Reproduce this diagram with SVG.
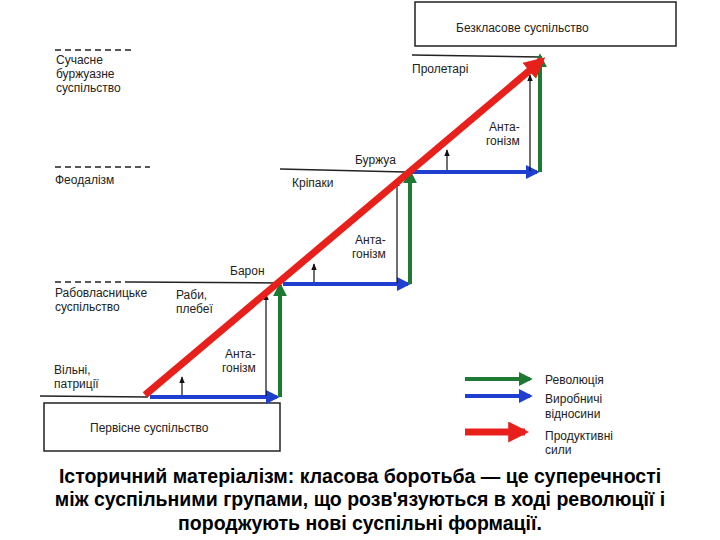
<svg xmlns="http://www.w3.org/2000/svg" width="720" height="540" viewBox="0 0 720 540">
<style>
text{font-family:"Liberation Sans",Arial,sans-serif;font-size:12px;fill:#222}
.cap{font-size:19.5px;font-weight:bold;fill:#000;text-anchor:middle}
.lv{stroke:#222;stroke-width:1.5;fill:none}
.ds{stroke:#222;stroke-width:1.5;stroke-dasharray:6,4;fill:none}
.bl{stroke:#1f3fd0;stroke-width:4;fill:none}
.gr{stroke:#1e7a33;stroke-width:4;fill:none}
.rd{stroke:#e8201c;stroke-width:7;fill:none}
.th{stroke:#111;stroke-width:1.2;fill:none}
.box{fill:#fff;stroke:#222;stroke-width:1.5}
</style>
<defs>
<marker id="mb" viewBox="0 0 10 10" refX="8" refY="5" markerWidth="3.5" markerHeight="3.5" orient="auto"><path d="M0,0L10,5L0,10z" fill="#1f3fd0"/></marker>
<marker id="mg" viewBox="0 0 10 10" refX="8" refY="5" markerWidth="3.5" markerHeight="3.5" orient="auto"><path d="M0,0L10,5L0,10z" fill="#1e7a33"/></marker>
<marker id="mr" viewBox="0 0 10 10" refX="8" refY="5" markerWidth="3" markerHeight="3" orient="auto"><path d="M0,0L10,5L0,10z" fill="#e8201c"/></marker>
<marker id="mk" viewBox="0 0 10 10" refX="9" refY="5" markerWidth="6" markerHeight="6" orient="auto"><path d="M0,1L10,5L0,9z" fill="#111"/></marker>
</defs>
<g id="n-pervisne"><rect class="box" x="44" y="403" width="236" height="48"/><text x="90" y="432">Первісне суспільство</text></g>
<g id="n-bezklasove"><rect class="box" x="415" y="2" width="261" height="44"/><text x="456" y="32">Безкласове суспільство</text></g>
<g id="levels">
<line class="lv" x1="40" y1="396" x2="148" y2="397"/>
<line class="ds" x1="55" y1="282" x2="130" y2="282"/><line class="lv" x1="130" y1="282" x2="278" y2="283"/>
<line class="ds" x1="55" y1="167" x2="150" y2="167"/><line class="lv" x1="280" y1="169" x2="405" y2="172"/>
<line class="ds" x1="55" y1="50" x2="135" y2="50"/><line class="lv" x1="412" y1="55" x2="540" y2="57"/>
</g>
<g id="labels">
<text x="54" y="374">Вільні,</text><text x="54" y="388">патриції</text>
<text x="55" y="297">Рабовласницьке</text><text x="55" y="311">суспільство</text>
<text x="176" y="299">Раби,</text><text x="176" y="313">плебеї</text>
<text x="230" y="275">Барон</text>
<text x="225" y="358">Анта-</text><text x="222" y="372">гонізм</text>
<text x="355" y="244">Анта-</text><text x="352" y="258">гонізм</text>
<text x="55" y="184">Феодалізм</text>
<text x="292" y="187">Кріпаки</text><text x="355" y="164">Буржуа</text>
<text x="489" y="131">Анта-</text><text x="486" y="145">гонізм</text>
<text x="56" y="64">Сучасне</text><text x="56" y="78">буржуазне</text><text x="56" y="92">суспільство</text>
<text x="412" y="73">Пролетарі</text>
</g>
<g id="connectors">
<line class="bl" x1="150" y1="397" x2="277" y2="397" marker-end="url(#mb)"/>
<line class="gr" x1="280" y1="397" x2="280" y2="285" marker-end="url(#mg)"/>
<line class="bl" x1="283" y1="284" x2="408" y2="284" marker-end="url(#mb)"/>
<line class="gr" x1="410" y1="284" x2="410" y2="172" marker-end="url(#mg)"/>
<line class="bl" x1="412" y1="172" x2="537" y2="172" marker-end="url(#mb)"/>
<line class="gr" x1="540" y1="172" x2="540" y2="56" marker-end="url(#mg)"/>
<line class="th" x1="266" y1="396" x2="266" y2="294" marker-end="url(#mk)"/>
<line class="th" x1="182" y1="395" x2="182" y2="377" marker-end="url(#mk)"/>
<line class="th" x1="397" y1="283" x2="397" y2="180" marker-end="url(#mk)"/>
<line class="th" x1="314" y1="282" x2="314" y2="264" marker-end="url(#mk)"/>
<line class="th" x1="530" y1="171" x2="530" y2="75" marker-end="url(#mk)"/>
<line class="th" x1="447" y1="170" x2="447" y2="150" marker-end="url(#mk)"/>
<line class="rd" x1="145" y1="395" x2="542" y2="60" marker-end="url(#mr)"/>
</g>
<g id="legend">
<line class="gr" x1="465" y1="379" x2="530" y2="379" marker-end="url(#mg)"/><text x="545" y="384">Революція</text>
<line class="bl" x1="465" y1="396" x2="530" y2="396" marker-end="url(#mb)"/><text x="545" y="403">Виробничі</text><text x="545" y="418">відносини</text>
<line class="rd" x1="465" y1="432" x2="525" y2="432" marker-end="url(#mr)"/><text x="545" y="440">Продуктивні</text><text x="545" y="454">сили</text>
</g>
<text class="cap" x="360" y="483">Історичний матеріалізм: класова боротьба — це суперечності</text>
<text class="cap" x="360" y="506">між суспільними групами, що розв'язуються в ході революції і</text>
<text class="cap" x="360" y="530">породжують нові суспільні формації.</text>
</svg>
